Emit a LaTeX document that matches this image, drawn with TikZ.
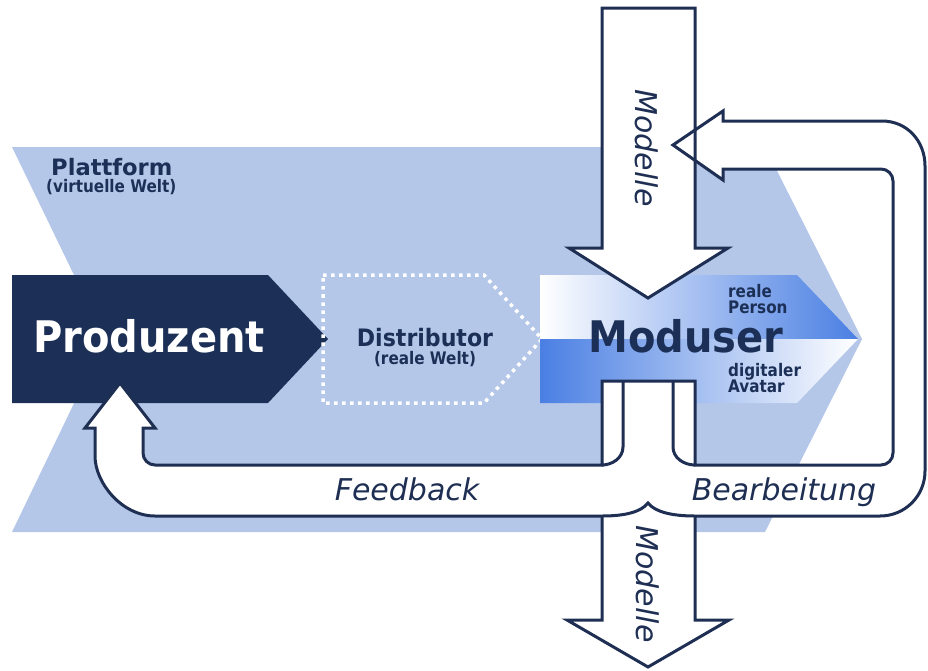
\documentclass[tikz,border=0pt]{standalone}
\usepackage{fontspec}
\setmainfont{DejaVu Sans}
\newfontfamily\labelfont{DejaVu Sans}
\newfontfamily\wideface{DejaVu Sans}[FakeStretch=0.92]
\newfontfamily\narrowface{DejaVu Sans}[FakeStretch=0.88]
\definecolor{navy}{HTML}{1C3057}
\definecolor{edge}{HTML}{1E2F53}
\definecolor{platform}{HTML}{B4C7E8}
\definecolor{modblue}{HTML}{4A7FE3}
\tikzset{
  arrowfill/.style={fill=white},
  arrowline/.style={draw=edge, line width=3pt, line join=miter},
  boldtext/.style={inner sep=0pt, text=navy},
  smalltext/.style={boldtext, font=\narrowface\bfseries\fontsize{17.3}{19}\selectfont},
  flowlabel/.style={inner sep=0pt, text=edge, font=\labelfont\itshape\fontsize{30}{34}\selectfont},
}
\begin{document}
\begin{tikzpicture}[x=1pt,y=-1pt]
\useasboundingbox (0,0) rectangle (928,670);

% platform chevron (virtual world)
\fill[platform] (12,147) -- (765,147) -- (862,339) -- (765,532) -- (12,532) -- (105,339) -- cycle;
\node[boldtext, anchor=base west, font=\bfseries\fontsize{22.6}{26}\selectfont] (plattform) at (51,175) {Plattform};
\node[smalltext, anchor=base west] (welt) at (46,192) {(virtuelle Welt)};

% producer
\fill[navy] (12,275) -- (268,275) -- (328,339) -- (268,403) -- (12,403) -- cycle;
\node[boldtext, text=white, anchor=base, font=\wideface\bfseries\fontsize{43.5}{48}\selectfont] (produzent) at (149,352) {Produzent};

% distributor (dotted outline)
\draw[white, line width=3.5pt, dash pattern=on 3.5pt off 4.5pt]
  (323,275) -- (484,275) -- (542,339) -- (484,403) -- (323,403) -- cycle;
\node[boldtext, anchor=base, font=\wideface\bfseries\fontsize{24}{27}\selectfont] (distributor) at (425,346) {Distributor};
\node[smalltext, anchor=base] (realewelt) at (425,364) {(reale Welt)};

% moduser: two shaded halves
\shade[left color=white, right color=modblue] (540,275) -- (797,275) -- (858,339) -- (540,339) -- cycle;
\shade[left color=modblue, right color=white] (540,339) -- (858,339) -- (797,403) -- (540,403) -- cycle;
\node[boldtext, anchor=base, font=\wideface\bfseries\fontsize{43.5}{48}\selectfont] (moduser) at (686,352) {Moduser};
\node[smalltext, anchor=base west] (reale) at (728,297) {reale};
\node[smalltext, anchor=base west] (person) at (728,313) {Person};
\node[smalltext, anchor=base west] (digitaler) at (728,376) {digitaler};
\node[smalltext, anchor=base west] (avatar) at (728,392) {Avatar};

% block arrows: fills first
\path[arrowfill] (602,8) -- (695,8) -- (695,248) -- (728,248) -- (648,298) -- (569,248) -- (602,248) -- cycle;
\path[arrowfill] (120,383) -- (155,428) -- (143,428) -- (143,453)
  .. controls (143,459.6) and (148.4,465) .. (155,465)
  -- (602,465) -- (602,381) -- (695,381) -- (695,465)
  -- (881,465) .. controls (887.6,465) and (893,459.6) .. (893,453)
  -- (893,181) .. controls (893,174.4) and (887.6,169) .. (881,169)
  -- (723,169) -- (723,180) -- (673,145) -- (723,111) -- (723,121)
  -- (882,121) .. controls (907,121) and (925,141) .. (925,166)
  -- (925,471) .. controls (925,496) and (905,516) .. (880,516)
  -- (695,516) .. controls (672,516) and (655,512) .. (648,503)
  .. controls (641,512) and (625,516) .. (602,516)
  -- (155,516) .. controls (122,516) and (95,483) .. (95,456)
  -- (95,428) -- (85,428) -- cycle;
\path[arrowfill] (602,505) -- (695,505) -- (695,620) -- (729,620) -- (648,667) -- (567,620) -- (602,620) -- cycle;

% block arrows: outlines
\path[arrowline] (602,8) -- (695,8) -- (695,248) -- (728,248) -- (648,298) -- (569,248) -- (602,248) -- cycle;
\path[arrowline] (120,383) -- (155,428) -- (143,428) -- (143,453)
  .. controls (143,459.6) and (148.4,465) .. (155,465)
  -- (602,465) -- (602,381) -- (695,381) -- (695,465)
  -- (881,465) .. controls (887.6,465) and (893,459.6) .. (893,453)
  -- (893,181) .. controls (893,174.4) and (887.6,169) .. (881,169)
  -- (723,169) -- (723,180) -- (673,145) -- (723,111) -- (723,121)
  -- (882,121) .. controls (907,121) and (925,141) .. (925,166)
  -- (925,471) .. controls (925,496) and (905,516) .. (880,516)
  -- (695,516) .. controls (672,516) and (655,512) .. (648,503)
  .. controls (641,512) and (625,516) .. (602,516)
  -- (155,516) .. controls (122,516) and (95,483) .. (95,456)
  -- (95,428) -- (85,428) -- cycle;
\path[arrowline] (602,516) -- (602,620) -- (567,620) -- (648,667) -- (729,620) -- (695,620) -- (695,516);
% split of the moduser output into feedback and editing
\path[arrowline] (623,381) -- (623,447) .. controls (623,458) and (612,465) .. (602,465);
\path[arrowline] (673,381) -- (673,447) .. controls (673,458) and (684,465) .. (695,465);

% flow labels
\node[flowlabel, rotate=-90] (modellein) at (647,148) {Modelle};
\node[flowlabel, rotate=-90] (modelleout) at (648,584) {Modelle};
\node[flowlabel, anchor=base] (feedback) at (407,500) {Feedback};
\node[flowlabel, anchor=base] (bearbeitung) at (784,500) {Bearbeitung};
\end{tikzpicture}
\end{document}
